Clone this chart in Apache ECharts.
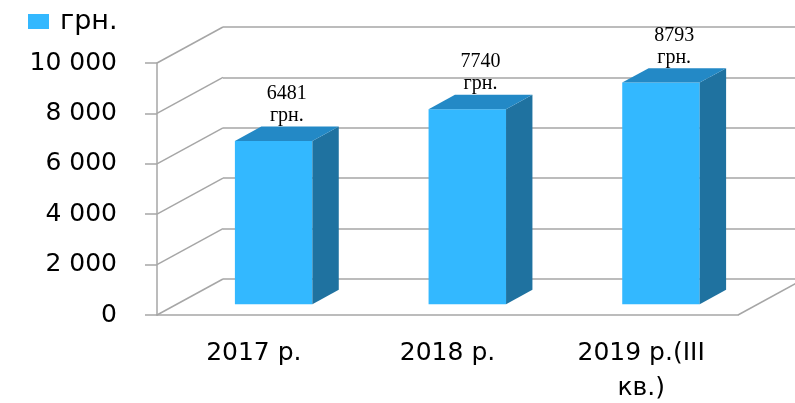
<!DOCTYPE html>
<html>
<head>
<meta charset="utf-8">
<script src="https://cdn.jsdelivr.net/npm/echarts@6/dist/echarts.min.js"></script>
<style>
  html, body { margin: 0; padding: 0; background: #fff; }
  #chart { width: 795px; height: 403px; }
</style>
</head>
<body>
<div id="chart"></div>
<script>
// data
const categories = ['2017 р.', '2018 р.', '2019 р.(III\nкв.)']
const values = [6481, 7740, 8793]
const unit = 'грн.'
const yTicks = [0, 2000, 4000, 6000, 8000, 10000]

// pseudo 3d depth of the plot box, in px
const DX = 66
const DY = -36
const BAR_FRONT = 0.3   // bar front face sits at 30% of depth
const BAR_DEPTH = 0.4   // bar is 40% deep

const lineColor = '#a6a6a6'
const font = 'DejaVu Sans'

const myChart = echarts.init(document.getElementById('chart'))

function renderBar (params, api) {
  const i = api.value(0)
  const v = api.value(1)
  const top = api.coord([i, v])
  const base = api.coord([i, 0])
  const w = api.size([1, 0])[0] * 0.4
  const fx = DX * BAR_FRONT
  const fy = DY * BAR_FRONT
  const bx = DX * BAR_DEPTH
  const by = DY * BAR_DEPTH
  const xl = top[0] - w / 2 + fx
  const xr = top[0] + w / 2 + fx
  const yt = top[1] + fy
  const yb = base[1] + fy
  return {
    type: 'group',
    children: [
      {
        type: 'rect',
        shape: { x: xl, y: yt, width: xr - xl, height: yb - yt },
        style: { fill: '#33b8ff' }
      },
      {
        type: 'polygon',
        shape: { points: [[xr, yt], [xr + bx, yt + by], [xr + bx, yb + by], [xr, yb]] },
        style: { fill: '#1f72a0' }
      },
      {
        type: 'polygon',
        shape: { points: [[xl, yt], [xl + bx, yt + by], [xr + bx, yt + by], [xr, yt]] },
        style: { fill: '#2389c6' }
      },
      {
        type: 'text',
        x: (xl + xr) / 2 + bx / 2,
        y: yt + by / 2 - 7,
        style: {
          text: v + '\n' + unit,
          fontFamily: 'Liberation Serif',
          fontSize: 20,
          lineHeight: 22,
          fill: '#000',
          align: 'center',
          verticalAlign: 'bottom'
        }
      }
    ]
  }
}

function renderDepth (params, api) {
  const v = api.value(0)
  const cs = params.coordSys
  const y = api.coord([0, v])[1]
  const children = [{
    type: 'line',
    shape: { x1: cs.x, y1: y, x2: cs.x + DX, y2: y + DY },
    style: { stroke: lineColor, lineWidth: 1.5 }
  }]
  if (v === 0) {
    children.push({
      type: 'line',
      shape: { x1: cs.x + cs.width, y1: y, x2: cs.x + cs.width + DX, y2: y + DY },
      style: { stroke: lineColor, lineWidth: 1.5 }
    })
  }
  return { type: 'group', children: children }
}

const option = {
  animation: false,
  backgroundColor: '#fff',
  legend: {
    left: 28,
    top: 8,
    padding: 0,
    itemWidth: 21,
    itemHeight: 15,
    data: [{ name: unit, icon: 'rect' }],
    textStyle: {
      fontFamily: font,
      fontSize: 27,
      color: '#000',
      padding: [0, 0, 0, 6]
    }
  },
  grid: [
    // front plane
    { left: 157, right: 57, top: 63, bottom: 88, outerBoundsMode: 'none' },
    // back wall
    { left: 157 + DX, right: 57 - DX, top: 63 + DY, bottom: 88 - DY, outerBoundsMode: 'none' }
  ],
  xAxis: [
    {
      gridIndex: 0,
      type: 'category',
      data: categories,
      boundaryGap: true,
      axisLine: { lineStyle: { color: lineColor, width: 1.5 } },
      axisTick: { length: 7, lineStyle: { color: lineColor, width: 1.5 } },
      axisLabel: {
        margin: 21,
        fontFamily: font,
        fontSize: 25,
        lineHeight: 35,
        color: '#000'
      },
      splitLine: { show: false }
    },
    {
      gridIndex: 1,
      type: 'category',
      data: categories,
      show: false
    }
  ],
  yAxis: [
    {
      gridIndex: 0,
      type: 'value',
      min: 0,
      max: 10000,
      interval: 2000,
      axisLine: { show: true, lineStyle: { color: lineColor, width: 1.5 } },
      axisTick: { show: true, length: 12, lineStyle: { color: lineColor, width: 1.5 } },
      axisLabel: {
        margin: 40,
        fontFamily: font,
        fontSize: 25,
        color: '#000',
        formatter: v => String(v).replace(/\B(?=(\d{3})+(?!\d))/g, ' ')
      },
      splitLine: { show: false }
    },
    {
      gridIndex: 1,
      type: 'value',
      min: 0,
      max: 10000,
      interval: 2000,
      axisLine: { show: false },
      axisTick: { show: false },
      axisLabel: { show: false },
      splitLine: { show: true, lineStyle: { color: lineColor, width: 1.5 } }
    }
  ],
  series: [
    {
      name: 'back',
      type: 'custom',
      xAxisIndex: 1,
      yAxisIndex: 1,
      data: [],
      renderItem: () => null
    },
    {
      name: 'depth',
      type: 'custom',
      xAxisIndex: 0,
      yAxisIndex: 0,
      z: 1,
      silent: true,
      data: yTicks.map(v => [v]),
      encode: { y: 0 },
      renderItem: renderDepth
    },
    {
      name: unit,
      type: 'custom',
      xAxisIndex: 0,
      yAxisIndex: 0,
      z: 5,
      itemStyle: { color: '#33b8ff' },
      data: values.map((v, i) => [i, v]),
      encode: { x: 0, y: 1 },
      renderItem: renderBar
    }
  ]
}

myChart.setOption(option)
window.onresize = myChart.resize
</script>
</body>
</html>
